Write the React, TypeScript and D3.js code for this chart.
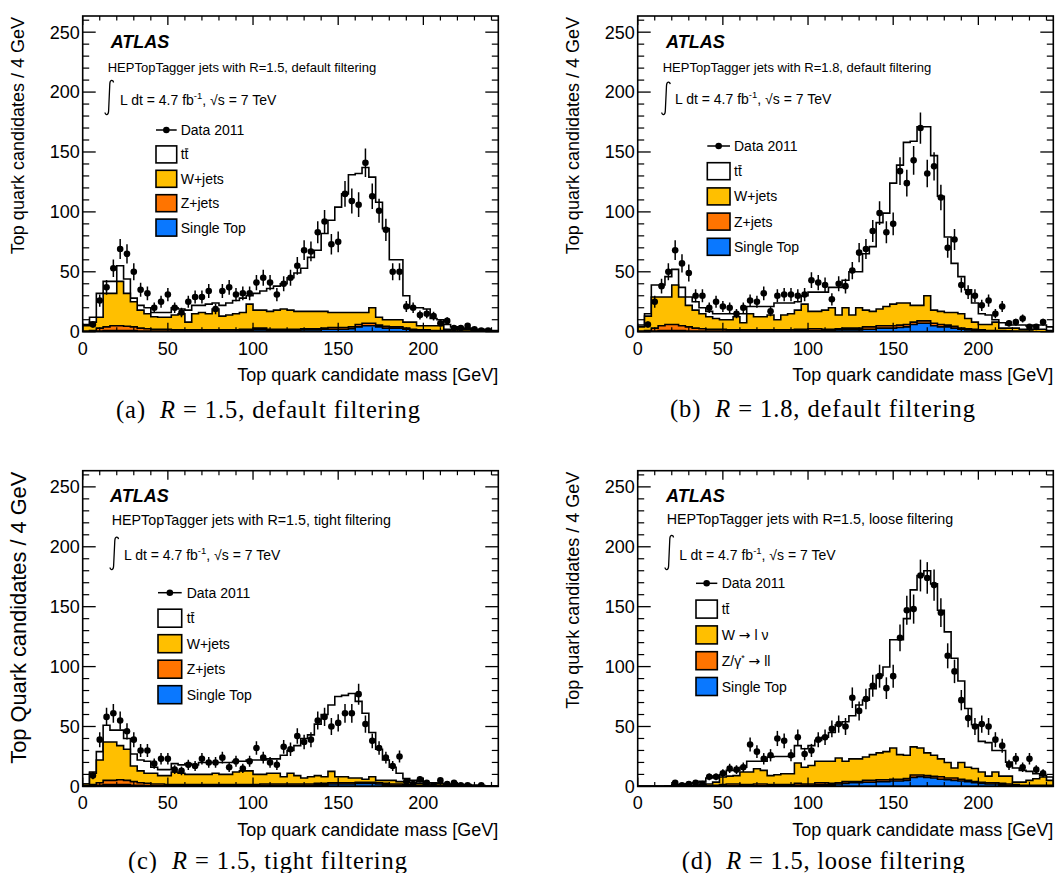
import React from 'react';
import * as d3 from 'd3';

// ---------- shared axis / binning ----------
const BIN = 4; // GeV per bin
const N_BINS = 61;
const X_MAX = 244;
const Y_MAX = 263.5;
const xMajorTicks = [0, 50, 100, 150, 200];
const yMajorTicks = [0, 50, 100, 150, 200, 250];
const MINOR_STEP = 10;

const COL_TT = '#ffffff';
const COL_W = '#ffbf00';
const COL_Z = '#ff7400';
const COL_ST = '#0a78ff';

// ---------- (a) R=1.5 default filtering ----------
const aData = [0,6,26,37,53,69,65,50,35,32, 20,25,31,20,16,25,29,29,34,19, 34,37,31,32,32,41,45,41,31,40, 45,55,68,67,83,92,73,75,115,109, 106,141,113,101,85,50,50,21,20,14, 15,13,7,9,3,3,5,2,1,1, 0];
const aTotal = [6,12,32,42,42,55,44,28,22,20, 16,16,16,20,19,18,22,22,23,24, 22,24,26,28,30,32,34,36,38,40, 45,49,53,62,68,82,93,104,115,131, 132,137,129,108,86,60,60,30,20,20, 19,11,10,6,4,3,3,2,2,1, 1];
const aWTop = [5,8,12,32,32,42,32,25,18,15, 12.5,12,12,14,15,8,15,16,15,19, 13,14,15,16,23,18,18,17,18,19, 18,17,17,17,17,17,16,16,16,16, 16,16,20,12,10,10,10,8,8,5, 5,5,5,2,2,2,2,1,1,1, 0.5];
const aZTop = [0.5,1,3,4,5,5,4.5,4,3,2.5, 2,2,2,1.5,1.5,1.5,1.5,1.5,1.5,1.5, 1.5,1.5,1.5,2,2,3,3,2,2,2, 2,2,2.5,2.5,2.5,3,3.5,3.5,3.5,4, 6,7,7,5.5,4.5,4,4,3,2,1.5, 1.5,1,1,1,0.5,0.5,0.5,0,0,0, 0];
const aSTTop = [0,0,0.5,1,1,1,1,1,0.5,0.5, 0.5,0.5,0.5,0.5,0.5,0.5,0.5,0.5,0.5,0.5, 0.5,0.5,0.5,1,1,1.5,1.5,1,1,1, 1,1,1.5,1.5,1.5,2,2,2,2,2.5, 4,5,5,4,3,3,3,2,1,1, 1,0.5,0.5,0.5,0,0,0,0,0,0, 0];

// ---------- (b) R=1.8 default filtering ----------
const bData = [0,6,25,38,50,68,57,49,30,30, 20,25,21,20,15,20,26,25,32,17, 30,31,31,30,31,43,41,39,27,40, 38,51,66,69,84,99,83,90,134,124, 143,170,132,138,112,70,77,39,33,30, 22,26,15,21,7,8,11,4,4,8, 0];
const bTotal = [5.6,15,39,39,46,52,37,29,25,20, 17,15,15,15,15,15,21,21,21,21, 24,24,24,25,30,33,33,33,37,37, 43,50,50,65,71,91,99,124,139,158, 159,171,171,147,113,79,57,46,35,24, 15,14,10,7.5,5.6,5.6,5.6,4.7,5.6,5.6, 4];
const bWTop = [4,13,29,29,29,39,29,22,18,15, 12.5,11,10,10,12.5,7.5,15,12.5,12.5,14, 10,14,15,18,23,17,17,18,20,14, 20,14,20,18,17,19,21,23,24,24, 22,22,30,18,17,16,16,15,11,8, 6,6,8,3,3,3,2,2,2,2, 1];
const bZTop = [0.5,1,3,5,6,6,5,4,3,2.5, 2,2,2,1.5,1.5,1.5,1.5,1.5,1.5,1.5, 1.5,1.5,1.5,2,2,2.5,2.5,2,2,2.5, 3,3,3,4,4,5,5,5,5.5,6, 8,9,9,7,6,5.5,4.5,3,2.5,2, 1.5,1,1,1,0.5,0.5,0.5,0.5,0,0, 0];
const bSTTop = [0,0,0.5,1,1,1,1,0.5,0.5,0.5, 0.5,0.5,0.5,0.5,0.5,0.5,0.5,0.5,0.5,0.5, 0.5,0.5,0.5,1,1,1,1,1,1,1.5, 1.5,1.5,1.5,2,2,3,3,3,3.5,4, 6,7,7,5,4,4,3,2,1.5,1, 1,0.5,0.5,0.5,0.5,0,0,0,0,0, 0];

// ---------- (c) R=1.5 tight filtering ----------
const cData = [0,9,39,58,61,55,46,39,30,30, 19,23,23,14,13,18,17,23,20,20, 24,16,21,15,21,32,24,20,18,33, 31,42,37,39,55,58,50,53,61,61, 77,52,38,32,24,17,25,4,2,6, 3,1,5,2,3,1,1,0,1,0, 0];
const cTotal = [2,12,29,51,47,47,40,27,22,21, 16,14,14,19,18,19,18,20,20,20, 20,20,21,21,22,22,22,23,23,26, 30,34,40,43,52,60,68,75,76,77.5, 71,61,45,31,22,16,11,6.5,5,4, 3,3,2.5,2,2,1.5,1.5,1,1,0.5, 0.5];
const cWTop = [2,11,22,37,37,34,31,17,13,11, 11,9,9,12,11,10,10,10,10,11, 10,10,12,13,13,10,10,11,11,8, 11,9,7,8,9,8,12.5,8,8,7, 7,6,8,5,5,5,4,4,3,2.5, 2,2,2,1.5,1.5,1,1,1,0.5,0.5, 0.5];
const cZTop = [0.5,1.5,3,5,5,5.5,5,4,3,2.5, 2,2,1.5,1.5,1.5,1.5,1.5,1.5,1.5,1.5, 1.5,1.5,1.5,1.5,1.5,1.5,2,2,2,2, 2,2,2,2,2.5,2.5,3,3,3,3, 3.5,3.5,3.5,3,2.5,2,2,1.5,1,1, 1,0.5,0.5,0.5,0.5,0,0,0,0,0, 0];
const cSTTop = [0,0.5,1,1.5,1.5,1.5,1.5,1,1,0.5, 0.5,0.5,0.5,0.5,0.5,0.5,0.5,0.5,0.5,0.5, 0.5,0.5,0.5,0.5,0.5,0.5,1,1,1,1, 1,1,1,1,1.5,1.5,2,2,2,2, 2.5,2.5,2.5,2,1.5,1,1,1,0.5,0.5, 0.5,0,0,0,0,0,0,0,0,0, 0];

// ---------- (d) R=1.5 loose filtering ----------
const dData = [0,0,0,0,0,3,1,2,3,2, 8,8,11,15,14,16,35,29,23,26, 40,38,26,41,27,30,39,41,48,52, 50,74,63,73,84,92,82,92,124,147, 148,176,174,168,145,109,96,72,57,50, 52,50,39,34,18,23,16,23,14,11, 0];
const dTotal = [0,0,0,0,0.5,1.4,1.7,2.2,3,4.2, 7,8.6,9.7,13.4,13.4,16,21,21,21,24.5, 25,25,25,34,31.4,34,38.4,41,45,51.5, 54,59,68,72,81.5,92.7,99.6,122.4,122.4,140, 164,176,180,169,147,129,107,88,65,51.5, 37.6,36.5,30,30,20.3,15.3,13.4,12.5,10.6,9.2, 7.8];
const dWTop = [0,0,0,0,0.3,0.5,0.5,0.8,1,1.5, 2,3.6,7.8,8.6,9,12,12,14.7,13.4,9, 9.7,10.6,10.6,19.5,16,17.5,21,21,21,23.7, 21,23,23,24.5,26.5,28,29,32,26.5,26, 33,32,28,26,23,20,15.3,20,16,15, 12,8.6,12,8.6,8.6,3.6,3.6,5,6.4,7.8, 5];
const dZTop = [0,0,0,0,0,0,0,0,0,0, 0.5,1,1.5,2,2,1.5,1.5,2,2,1.5, 1.5,1.5,1.5,2.5,2,2,3,3,2.5,3, 4,4,4,5,5,5.5,5.5,6,6,6.5, 9.5,9.5,9,8.5,8,7,7,6,5,4, 3.5,3,3,2.5,2,1.5,1,1,1,1, 1];
const dSTTop = [0,0,0,0,0,0,0,0,0,0, 0,0.3,0.5,0.5,0.5,0.5,0.5,0.5,0.5,0.5, 0.5,0.5,0.5,1,1,1,1.5,1.5,1.5,2, 2.5,3,3,3.5,3.5,4,4,4.5,4.5,5, 7.5,8,7.5,7,6,5.5,5,4.5,4,3, 2.5,2,2,1.5,1,1,0.5,0.5,0.5,0.5, 0.5];

const legendDefault = ['Data 2011', 'tt', 'W+jets', 'Z+jets', 'Single Top'];
const legendLoose = ['Data 2011', 'tt', 'W-lnu', 'Z-ll', 'Single Top'];

const PW = 415.6;
const PH = 315.7;
const SANS = "'Liberation Sans', Arial, Helvetica, sans-serif";
const SERIF = "'Liberation Serif', 'Times New Roman', serif";
const ARROW_FONT = "'DejaVu Sans', sans-serif";

const panels = [
  {
    id: 'a', left: 82.7, top: 16,
    data: aData, total: aTotal, wTop: aWTop, zTop: aZTop, stTop: aSTTop,
    yLabel: 'Top quark candidates / 4 GeV', yLabelSize: 18, yLabelDx: -58.7,
    hep: 'HEPTopTagger jets with R=1.5, default filtering', hepSize: 13,
    atlas: [28, 32], hepPos: [25, 56.4], integ: [22.3, 64, 99], lumi: [37.3, 89],
    legend: { dx: 73.3, w: 20.7, h: 17, dy0: 114, step: 24.4, tdx: 98 },
    labels: legendDefault,
    capL: '(a)', capR: ' = 1.5, default filtering', capX: 116, capW: 304, capY: 418,
  },
  {
    id: 'b', left: 637.7, top: 16,
    data: bData, total: bTotal, wTop: bWTop, zTop: bZTop, stTop: bSTTop,
    yLabel: 'Top quark candidates / 4 GeV', yLabelSize: 18, yLabelDx: -58.7,
    hep: 'HEPTopTagger jets with R=1.8, default filtering', hepSize: 13,
    atlas: [28.3, 32], hepPos: [25, 56.4], integ: [24, 65.7, 99], lumi: [37.3, 88.3],
    legend: { dx: 69.6, w: 22.7, h: 17, dy0: 130, step: 25.2, tdx: 96.3 },
    labels: legendDefault,
    capL: '(b)', capR: ' = 1.8, default filtering', capX: 670, capW: 305, capY: 417,
  },
  {
    id: 'c', left: 82.7, top: 470.7,
    data: cData, total: cTotal, wTop: cWTop, zTop: cZTop, stTop: cSTTop,
    yLabel: 'Top Quark candidates / 4 GeV', yLabelSize: 21.8, yLabelDx: -56.7,
    hep: 'HEPTopTagger jets with R=1.5, tight filtering', hepSize: 14.3,
    atlas: [27.3, 30.8], hepPos: [29, 54.3], integ: [27.3, 66, 99.3], lumi: [41.3, 89.3],
    legend: { dx: 75.3, w: 23.7, h: 18, dy0: 122, step: 25.5, tdx: 104 },
    labels: legendDefault,
    capL: '(c)', capR: ' = 1.5, tight filtering', capX: 128, capW: 279, capY: 869,
  },
  {
    id: 'd', left: 637.7, top: 470.7,
    data: dData, total: dTotal, wTop: dWTop, zTop: dZTop, stTop: dSTTop,
    yLabel: 'Top quark candidates / 4 GeV', yLabelSize: 18, yLabelDx: -58.7,
    hep: 'HEPTopTagger jets with R=1.5, loose filtering', hepSize: 14.3,
    atlas: [28.3, 30.8], hepPos: [29, 52.8], integ: [27.3, 64.3, 99.3], lumi: [41.6, 89.3],
    legend: { dx: 58.3, w: 21.3, h: 18, dy0: 112.6, step: 25.8, tdx: 84 },
    labels: legendLoose,
    capL: '(d)', capR: ' = 1.5, loose filtering', capX: 681.7, capW: 283, capY: 869,
  },
];

const edges = d3.range(N_BINS + 1).map((i) => i * BIN);

function LegendLabel({ lab, tx, cy }: { lab: string; tx: number; cy: number }) {
  const base = cy + 5;
  if (lab === 'tt') {
    return (
      <g>
        <text x={tx} y={base} fontSize={14} fontFamily={SANS}>tt</text>
        <line x1={tx + 4.2} x2={tx + 7.6} y1={cy - 5.5} y2={cy - 5.5} stroke="#000" strokeWidth={1} />
      </g>
    );
  }
  if (lab === 'W-lnu') {
    return (
      <text x={tx} y={base} fontSize={14} fontFamily={SANS}>
        <tspan>W </tspan>
        <tspan fontFamily={ARROW_FONT} fontSize={14}>{'\u2192'}</tspan>
        <tspan>{' l \u03bd'}</tspan>
      </text>
    );
  }
  if (lab === 'Z-ll') {
    return (
      <text x={tx} y={base} fontSize={14} fontFamily={SANS}>
        <tspan>{'Z/\u03b3'}</tspan>
        <tspan dy={-5} fontSize={9}>*</tspan>
        <tspan dy={5}> </tspan>
        <tspan fontFamily={ARROW_FONT} fontSize={14}>{'\u2192'}</tspan>
        <tspan>{' ll'}</tspan>
      </text>
    );
  }
  return <text x={tx} y={base} fontSize={14} fontFamily={SANS}>{lab}</text>;
}

function Panel({ p }: { p: any }) {
  const L = p.left, T = p.top;
  const x = d3.scaleLinear().domain([0, X_MAX]).range([L, L + PW]);
  const y = d3.scaleLinear().domain([0, Y_MAX]).range([T + PH, T]);

  const stepArea = (vals: number[]) => {
    const pts = edges.map((e, i) => [e, vals[Math.min(i, vals.length - 1)]] as [number, number]);
    return d3
      .area<[number, number]>()
      .x((d) => x(d[0]))
      .y0(y(0))
      .y1((d) => y(d[1]))
      .curve(d3.curveStepAfter)(pts) as string;
  };

  const xMinor = d3.range(0, X_MAX + 0.01, MINOR_STEP).filter((v) => v % 50 !== 0);
  const yMinor = d3.range(0, Y_MAX, MINOR_STEP).filter((v) => v % 50 !== 0);
  const clipId = `clip-${p.id}`;
  const lg = p.legend;
  const lx = L + lg.dx;
  const rowY = (k: number) => T + lg.dy0 + k * lg.step;
  const fills = [null, COL_TT, COL_W, COL_Z, COL_ST];
  const [ix, iy0, iy1] = p.integ;
  const ixa = L + ix, iya = T + iy0, iyb = T + iy1;

  return (
    <g>
      <defs>
        <clipPath id={clipId}>
          <rect x={L} y={T} width={PW} height={PH} />
        </clipPath>
      </defs>
      <g clipPath={`url(#${clipId})`}>
        {[
          [p.total, COL_TT],
          [p.wTop, COL_W],
          [p.zTop, COL_Z],
          [p.stTop, COL_ST],
        ].map(([vals, col], k) => (
          <path key={k} d={stepArea(vals as number[])} fill={col as string} stroke="#000" strokeWidth={1.6} strokeLinejoin="miter" />
        ))}
        {p.data.map((v: number, i: number) => {
          if (v <= 0) return null;
          const cx = x(i * BIN + BIN / 2);
          const err = Math.sqrt(v);
          return (
            <g key={i}>
              <line x1={cx} x2={cx} y1={y(Math.max(0, v - err))} y2={y(v + err)} stroke="#000" strokeWidth={1.5} />
              <circle cx={cx} cy={y(v)} r={3.3} fill="#000" />
            </g>
          );
        })}
      </g>

      {/* frame and ticks */}
      <rect x={L} y={T} width={PW} height={PH} fill="none" stroke="#000" strokeWidth={1.6} />
      {xMajorTicks.map((v) => (
        <g key={`xm${v}`}>
          <line x1={x(v)} x2={x(v)} y1={T} y2={T + 9} stroke="#000" strokeWidth={1.3} />
          <line x1={x(v)} x2={x(v)} y1={T + PH} y2={T + PH - 9} stroke="#000" strokeWidth={1.3} />
          <text x={x(v)} y={T + PH + 23} textAnchor="middle" fontSize={18} fontFamily={SANS}>{v}</text>
        </g>
      ))}
      {xMinor.map((v) => (
        <g key={`xn${v}`}>
          <line x1={x(v)} x2={x(v)} y1={T} y2={T + 4.5} stroke="#000" strokeWidth={1.2} />
          <line x1={x(v)} x2={x(v)} y1={T + PH} y2={T + PH - 4.5} stroke="#000" strokeWidth={1.2} />
        </g>
      ))}
      {yMajorTicks.map((v) => (
        <g key={`ym${v}`}>
          <line x1={L} x2={L + 13} y1={y(v)} y2={y(v)} stroke="#000" strokeWidth={1.3} />
          <line x1={L + PW} x2={L + PW - 13} y1={y(v)} y2={y(v)} stroke="#000" strokeWidth={1.3} />
          <text x={L - 3} y={y(v) + 6.4} textAnchor="end" fontSize={18} fontFamily={SANS}>{v}</text>
        </g>
      ))}
      {yMinor.map((v) => (
        <g key={`yn${v}`}>
          <line x1={L} x2={L + 6.5} y1={y(v)} y2={y(v)} stroke="#000" strokeWidth={1.2} />
          <line x1={L + PW} x2={L + PW - 6.5} y1={y(v)} y2={y(v)} stroke="#000" strokeWidth={1.2} />
        </g>
      ))}

      {/* axis titles */}
      <text x={L + PW} y={T + PH + 49.5} textAnchor="end" fontSize={18} fontFamily={SANS}>
        Top quark candidate mass [GeV]
      </text>
      <text
        transform={`translate(${L + p.yLabelDx},${T + 1}) rotate(-90)`}
        textAnchor="end"
        fontSize={p.yLabelSize}
        fontFamily={SANS}
      >
        {p.yLabel}
      </text>

      {/* ATLAS labels */}
      <text x={L + p.atlas[0]} y={T + p.atlas[1]} fontSize={18} fontWeight="bold" fontStyle="italic" fontFamily={SANS}>
        ATLAS
      </text>
      <text x={L + p.hepPos[0]} y={T + p.hepPos[1]} fontSize={p.hepSize} fontFamily={SANS}>
        {p.hep}
      </text>
      <path
        d={`M${ixa + 8.5},${iya + 2.5} C${ixa + 8},${iya - 0.5} ${ixa + 5},${iya - 0.5} ${ixa + 4.8},${iya + 4} L${ixa + 3.6},${iyb - 4} C${ixa + 3.4},${iyb + 0.5} ${ixa + 0.5},${iyb + 0.5} ${ixa},${iyb - 2.5}`}
        fill="none"
        stroke="#000"
        strokeWidth={1.3}
      />
      <text x={L + p.lumi[0]} y={T + p.lumi[1]} fontSize={14} fontFamily={SANS}>
        <tspan>L dt = 4.7 fb</tspan>
        <tspan dy={-6} fontSize={9.5}>-1</tspan>
        <tspan dy={6}>, </tspan>
        <tspan>{'\u221As'}</tspan>
        <tspan> = 7 TeV</tspan>
      </text>

      {/* legend */}
      {p.labels.map((lab: string, k: number) => {
        const cy = rowY(k);
        const tx = L + lg.tdx;
        return (
          <g key={`lg${k}`}>
            {k === 0 ? (
              <g>
                <line x1={lx} x2={lx + lg.w} y1={cy} y2={cy} stroke="#000" strokeWidth={1.5} />
                <circle cx={lx + lg.w / 2} cy={cy} r={3.3} fill="#000" />
              </g>
            ) : (
              <rect x={lx} y={cy - lg.h / 2} width={lg.w} height={lg.h} fill={fills[k] as string} stroke="#000" strokeWidth={1.6} />
            )}
            <LegendLabel lab={lab} tx={tx} cy={cy} />
          </g>
        );
      })}

      {/* caption */}
      <text
        x={p.capX}
        y={p.capY}
        fontSize={24.5}
        fontFamily={SERIF}
        textLength={p.capW}
        lengthAdjust="spacing"
        style={{ whiteSpace: 'pre' }}
      >
        <tspan>{p.capL + '  '}</tspan>
        <tspan fontStyle="italic">R</tspan>
        <tspan>{p.capR}</tspan>
      </text>
    </g>
  );
}

export default function App() {
  return (
    <svg
      width={1056}
      height={873}
      viewBox="0 0 1056 873"
      style={{ position: 'absolute', left: 0, top: 0, background: '#fff' }}
    >
      <rect x={0} y={0} width={1056} height={873} fill="#fff" />
      {panels.map((p) => (
        <Panel key={p.id} p={p} />
      ))}
    </svg>
  );
}
